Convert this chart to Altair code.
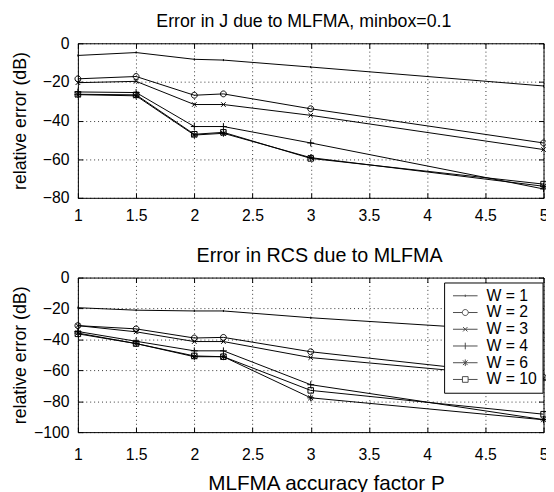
import altair as alt
import pandas as pd

# ---------------- data ----------------
P = [1, 1.5, 2, 2.25, 3, 5]
W_LABELS = ["W = 1", "W = 2", "W = 3", "W = 4", "W = 6", "W = 10"]

# Error in J (dB)
J_W1 = [-6.3, -4.8, -8.3, -8.7, -12.3, -22.1]
J_W2 = [-18.4, -17.2, -26.9, -26.2, -33.9, -51.6]
J_W3 = [-20.4, -19.7, -31.7, -31.7, -37.3, -55.0]
J_W4 = [-25.2, -25.5, -43.1, -43.1, -51.6, -75.4]
J_W6 = [-26.6, -27.2, -47.5, -46.6, -59.2, -74.0]
J_W10 = [-26.4, -26.7, -47.1, -46.1, -59.6, -72.9]

# Error in RCS (dB)
R_W1 = [-19.5, -21.1, -21.6, -21.6, -26.0, -35.5]
R_W2 = [-31.1, -33.2, -39.1, -38.7, -48.0, -64.5]
R_W3 = [-31.1, -35.1, -41.4, -41.4, -51.8, -65.5]
R_W4 = [-34.9, -41.2, -47.4, -47.4, -69.3, -91.9]
R_W6 = [-35.9, -42.7, -51.2, -51.2, -77.8, -92.0]
R_W10 = [-36.4, -42.7, -50.7, -51.2, -73.0, -88.4]

X_TICKS = [1, 1.5, 2, 2.5, 3, 3.5, 4, 4.5, 5]
J_Y_TICKS = [0, -20, -40, -60, -80]
R_Y_TICKS = [0, -20, -40, -60, -80, -100]

TOP_TITLE = "Error in J due to MLFMA, minbox=0.1"
BOTTOM_TITLE = "Error in RCS due to MLFMA"
Y_TITLE = "relative error (dB)"
X_TITLE = "MLFMA accuracy factor P"


def long_df(series):
    rows = []
    for lab, vals in zip(W_LABELS, series):
        for p, v in zip(P, vals):
            rows.append({"P": p, "err": v, "W": lab})
    return pd.DataFrame(rows)


df_j = long_df([J_W1, J_W2, J_W3, J_W4, J_W6, J_W10])
df_r = long_df([R_W1, R_W2, R_W3, R_W4, R_W6, R_W10])

# marker shapes (MATLAB style: . o x + * s)
MARKERS = [
    "M0,-0.3L0,0.3",
    "M0.85,0A0.85,0.85 0 1,1 -0.85,0A0.85,0.85 0 1,1 0.85,0",
    "M-0.65,-0.65L0.65,0.65M-0.65,0.65L0.65,-0.65",
    "M-1,0L1,0M0,-1L0,1",
    "M-1,0L1,0M0,-1L0,1M-0.7,-0.7L0.7,0.7M-0.7,0.7L0.7,-0.7",
    "M-0.8,-0.8L0.8,-0.8L0.8,0.8L-0.8,0.8Z",
]
# legend symbols: line + marker
LEG_SYMBOLS = [
    "M-1.56,0L1.56,0M0,-0.15L0,0.15",
    "M-1.56,0L-0.38,0M0.38,0L1.56,0M0.38,0A0.38,0.38 0 1,1 -0.38,0A0.38,0.38 0 1,1 0.38,0",
    "M-1.56,0L1.56,0M-0.28,-0.28L0.28,0.28M-0.28,0.28L0.28,-0.28",
    "M-1.56,0L1.56,0M0,-0.42L0,0.42",
    "M-1.56,0L1.56,0M0,-0.42L0,0.42M-0.3,-0.3L0.3,0.3M-0.3,0.3L0.3,-0.3",
    "M-1.56,0L-0.36,0M0.36,0L1.56,0M-0.36,-0.36L0.36,-0.36L0.36,0.36L-0.36,0.36Z",
]

W = 473
H = 157
FONT = "Liberation Sans"


def panel(df, title, title_dx, title_offset, title_size, ydom, yticks,
          label_pad, show_xtitle, show_legend):
    xscale = alt.Scale(domain=[1, 5], nice=False, zero=False)
    yscale = alt.Scale(domain=ydom, nice=False, zero=False)

    x_common = dict(
        values=X_TICKS, format="~g", ticks=False, domain=False, grid=True,
        gridDash=[1, 3], gridColor="black", gridOpacity=0.8, labelFontSize=16,
        labelFont=FONT, labelColor="black", labelPadding=label_pad,
        labelFlush=False, labelOverlap=False,
    )
    if show_xtitle:
        main_x = alt.Axis(
            title=X_TITLE, titleFontSize=21, titleFont=FONT,
            titleFontWeight="normal", titleColor="black", titlePadding=10,
            titleX=252, **x_common,
        )
    else:
        main_x = alt.Axis(title=None, **x_common)

    main_y = alt.Axis(
        values=yticks, ticks=False, domain=False, grid=True,
        gridDash=[1, 3], gridColor="black", gridOpacity=0.8, labelFontSize=16,
        labelFont=FONT, labelColor="black", labelPadding=9, labelFlush=False,
        title=Y_TITLE, titleFontSize=18, titleFont=FONT, titleFontWeight="normal",
        titleColor="black", titleX=-53, titleY=H / 2, titleAngle=270,
        titleBaseline="alphabetic", titleAlign="center",
    )

    def inner_x(orient, off):
        return alt.Axis(orient=orient, offset=off, values=X_TICKS, labels=False,
                        domain=False, grid=False, ticks=True, tickSize=5,
                        tickColor="black", title=None)

    def inner_y(orient, off):
        return alt.Axis(orient=orient, offset=off, values=yticks, labels=False,
                        domain=False, grid=False, ticks=True, tickSize=5,
                        tickColor="black", title=None)

    base = alt.Chart(df)

    lines = base.mark_line(color="black", strokeWidth=1).encode(
        x=alt.X("P:Q", scale=xscale, axis=main_x),
        y=alt.Y("err:Q", scale=yscale, axis=main_y),
        detail="W:N",
    )
    points = base.mark_point(filled=False, color="black", size=49, strokeWidth=1, opacity=1).encode(
        x=alt.X("P:Q", scale=xscale, axis=inner_x("top", -H)),
        y=alt.Y("err:Q", scale=yscale, axis=inner_y("right", -W)),
        shape=alt.Shape("W:N", scale=alt.Scale(domain=W_LABELS, range=MARKERS), legend=None),
    )
    if show_legend:
        leg = alt.Legend(
            title=None, orient="none", legendX=372, legendY=5,
            labelFontSize=16, labelFont=FONT, labelColor="black",
            labelExpr="datum.label + '  '",
            symbolSize=256, symbolStrokeWidth=1, symbolStrokeColor="black",
            symbolFillColor="transparent", strokeColor="black", fillColor="white",
            padding=5, rowPadding=-1, labelOffset=13, symbolOffset=8,
        )
        extra_shape = alt.Shape("W:N", scale=alt.Scale(domain=W_LABELS, range=LEG_SYMBOLS), legend=leg)
    else:
        extra_shape = alt.Shape("W:N", scale=alt.Scale(domain=W_LABELS, range=LEG_SYMBOLS), legend=None)
    extra = base.transform_filter("false").mark_point(filled=False, color="black", size=256).encode(
        x=alt.X("P:Q", scale=xscale, axis=inner_x("bottom", -H)),
        y=alt.Y("err:Q", scale=yscale, axis=inner_y("left", -W)),
        shape=extra_shape,
    )

    return alt.layer(lines, points, extra).resolve_scale(
        shape="independent"
    ).resolve_axis(x="independent", y="independent").properties(
        width=W, height=H,
        title=alt.TitleParams(title, fontSize=title_size, font=FONT, fontWeight="normal",
                              color="black", anchor="middle", frame="group",
                              offset=title_offset, dx=title_dx),
    )


top = panel(df_j, TOP_TITLE, -7, 5, 18, [-80, 0], J_Y_TICKS, 10, False, False)
bottom = panel(df_r, BOTTOM_TITLE, 9, 4, 20, [-100, 0], R_Y_TICKS, 15, True, True)

chart = alt.vconcat(top, bottom, spacing=21).properties(
    padding={"left": 3, "top": 0, "right": -3.5, "bottom": -5},
    background="white",
).configure_view(stroke="black", strokeWidth=1).configure_concat(spacing=21)

chart.save("out.html", embed_options={"renderer": "svg", "actions": False})
